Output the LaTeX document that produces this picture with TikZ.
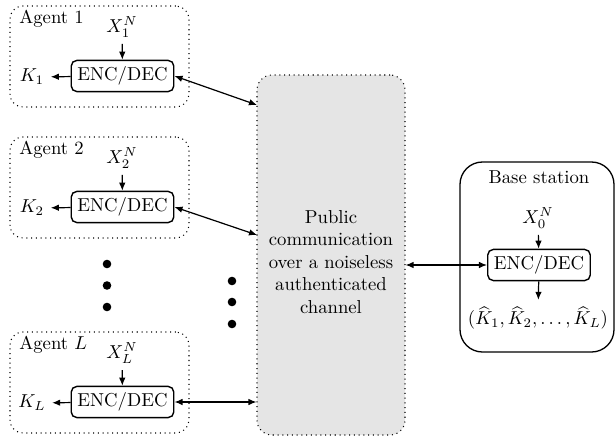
\documentclass[tikz,border=0pt]{standalone}
\usetikzlibrary{arrows.meta,fit}
\begin{document}
\begin{tikzpicture}[x=0.5348pt,y=-0.5348pt,
  agentbox/.style={draw, dotted, line width=0.55pt, rounded corners=7pt, inner sep=0pt},
  chanbox/.style={draw, dotted, line width=0.55pt, fill=black!10, rounded corners=8pt, inner sep=0pt},
  basebox/.style={draw, line width=0.7pt, rounded corners=12pt, inner sep=0pt},
  encbox/.style={draw, line width=0.75pt, rounded corners=3pt, inner sep=3.33pt},
  arr/.style={line width=0.65pt, -{Latex[length=4.3pt,width=3.5pt]}},
  dbl/.style={line width=0.65pt, {Latex[length=4.3pt,width=3.5pt]}-{Latex[length=4.3pt,width=3.5pt]}},
  dotnode/.style={circle, fill=black, inner sep=0pt, minimum size=4.6pt}
]
\useasboundingbox (0,0) rectangle (616,438);

% channel
\node[chanbox, fit={(257,75) (405,435)}] (ch) {};
\node[align=center] (chtext) at (331,262) {Public\\communication\\over a noiseless\\authenticated\\channel};

% Agent 1
\node[agentbox, fit={(10,6) (189,107)}] (ag1) {};
\node[anchor=west, inner sep=0pt] (ag1l) at (19,19) {Agent 1};
\node[encbox] (enc1) at (122.5,76) {ENC/DEC};
\node (x1) at (122,27) {$X_1^N$};
\node (k1) at (32,77) {$K_1$};
\draw[arr] (x1) -- (enc1);
\draw[arr] (enc1) -- (k1);
\coordinate (c1) at (257,105);
\draw[dbl] (enc1.east) -- (c1);

% Agent 2
\node[agentbox, fit={(10,137) (189,238)}] (ag2) {};
\node[anchor=west, inner sep=0pt] (ag2l) at (19,150) {Agent 2};
\node[encbox] (enc2) at (122.5,207) {ENC/DEC};
\node (x2) at (122,158) {$X_2^N$};
\node (k2) at (32,208) {$K_2$};
\draw[arr] (x2) -- (enc2);
\draw[arr] (enc2) -- (k2);
\coordinate (c2) at (257,235);
\draw[dbl] (enc2.east) -- (c2);

% Agent L
\node[agentbox, fit={(10,332) (189,433)}] (agL) {};
\node[anchor=west, inner sep=0pt] (agLl) at (19,345) {Agent $L$};
\node[encbox] (encL) at (122.5,402) {ENC/DEC};
\node (xL) at (122,353) {$X_L^N$};
\node (kL) at (32,403) {$K_L$};
\draw[arr] (xL) -- (encL);
\draw[arr] (encL) -- (kL);
\draw[dbl] (encL.east) -- (encL.east -| ch.west);

% dots
\node[dotnode] (d1) at (107,264) {};
\node[dotnode] (d2) at (107,285.5) {};
\node[dotnode] (d3) at (107,307) {};
\node[dotnode] (d4) at (232,281) {};
\node[dotnode] (d5) at (232,302) {};
\node[dotnode] (d6) at (232,324) {};

% Base station
\node[basebox, fit={(460,162) (614,352)}] (bs) {};
\node (bsl) at (539,177) {Base station};
\node[encbox] (bsenc) at (539,265) {ENC/DEC};
\node (x0) at (538,218) {$X_0^N$};
\node (tup) at (538,318) {$(\widehat{K}_1,\widehat{K}_2,\ldots,\widehat{K}_L)$};
\draw[arr] (x0) -- (bsenc);
\draw[arr] (bsenc) -- (tup);
\draw[dbl] (bsenc.west -| ch.east) -- (bsenc.west);
\end{tikzpicture}
\end{document}
